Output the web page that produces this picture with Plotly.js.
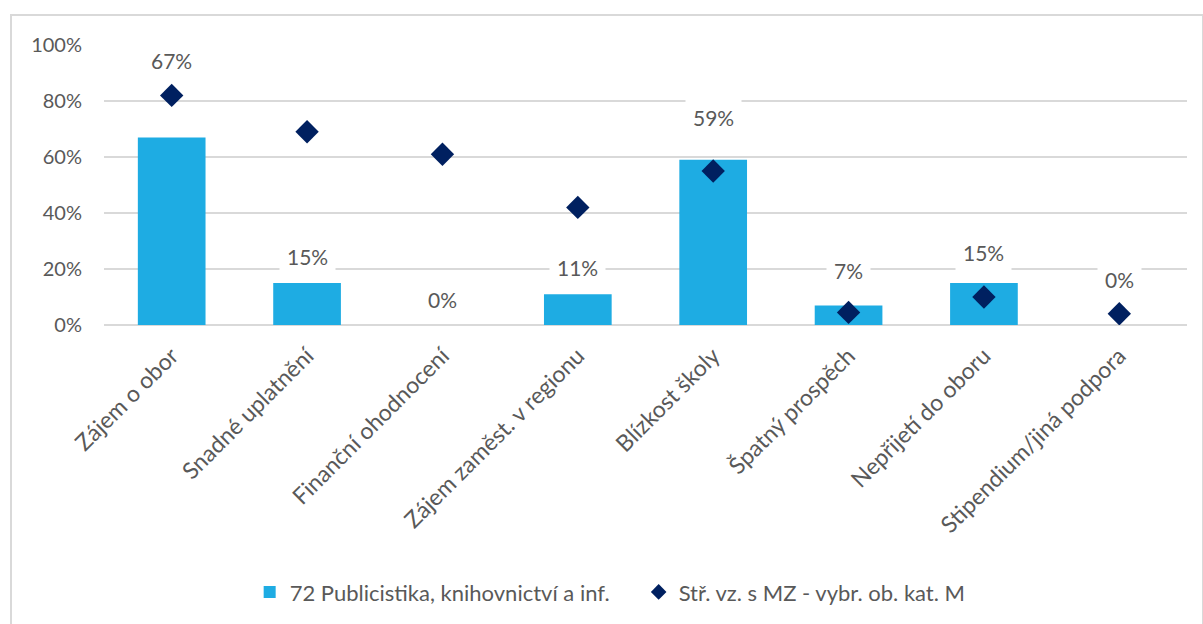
<!DOCTYPE html>
<html>
<head>
<meta charset="utf-8">
<script src="https://cdn.plot.ly/plotly-3.0.1.min.js"></script>
<style>
html,body{margin:0;padding:0;background:#fff;}
#wrap{position:relative;width:1203px;height:624px;overflow:hidden;}
#frame{position:absolute;left:10px;top:14px;width:1190px;height:640px;border:2px solid #d9d9d9;}
#chart{position:absolute;left:0;top:0;width:1203px;height:624px;}
</style>
</head>
<body>
<div id="wrap"><div id="frame"></div><div id="chart"></div></div>
<script>
const categories = ["Zájem o obor", "Snadné uplatnění", "Finanční ohodnocení", "Zájem zaměst. v regionu", "Blízkost školy", "Špatný prospěch", "Nepřijetí do oboru", "Stipendium/jiná podpora"];
const seriesBarName = "72 Publicistika, knihovnictví a inf.";
const seriesBar = [0.67, 0.15, 0.00, 0.11, 0.59, 0.07, 0.15, 0.00];
const seriesDiamondName = "Stř. vz. s MZ - vybr. ob. kat. M";
const seriesDiamond = [0.82, 0.69, 0.61, 0.42, 0.55, 0.045, 0.10, 0.04];
const yTickVals = [0, 0.2, 0.4, 0.6, 0.8, 1.0];
const yTickText = ["0%", "20%", "40%", "60%", "80%", "100%"];
// label offsets above bar top (pixels) - styling
const labelShift = [77, 27, 26, 27, 42, 35, 31, 46];

const FONT = "Lato, 'Open Sans', sans-serif";
const TXT = "#595959";

const traces = [
  {
    type: "bar", name: seriesBarName, x: categories, y: seriesBar,
    marker: {color: "#1eace3"}, width: 0.5, hoverinfo: "x+y"
  },
  {
    type: "scatter", mode: "markers", name: seriesDiamondName, x: categories, y: seriesDiamond,
    marker: {symbol: "diamond", size: 18, color: "#002060"}
  }
];

const annotations = categories.map((c, i) => ({
  x: c, y: seriesBar[i], xref: "x", yref: "y",
  text: Math.round(seriesBar[i] * 100) + "%",
  showarrow: false, yanchor: "middle", yshift: labelShift[i],
  bgcolor: "#ffffff", borderpad: 7,
  font: {family: FONT, size: 21, color: TXT}
}));

const layout = {
  width: 1203, height: 624,
  margin: {l: 104, r: 16, t: 45, b: 298},
  paper_bgcolor: "rgba(0,0,0,0)", plot_bgcolor: "rgba(0,0,0,0)",
  font: {family: FONT, size: 20, color: TXT},
  bargap: 0.5,
  xaxis: {
    type: "category", tickangle: -45, showgrid: false, zeroline: false,
    showline: false, ticks: "", ticklabelstandoff: 12,
    tickfont: {family: FONT, size: 23, color: TXT}
  },
  yaxis: {
    range: [0, 1], tickvals: yTickVals, ticktext: yTickText,
    showgrid: true, gridcolor: "#d9d9d9", gridwidth: 1.5,
    zeroline: true, zerolinecolor: "#d9d9d9", zerolinewidth: 1.5,
    showline: false, ticks: "", ticklabelstandoff: 21,
    tickfont: {family: FONT, size: 20, color: TXT}
  },
  showlegend: true,
  legend: {
    orientation: "h", x: 0.1345, xanchor: "left", y: -0.947, yanchor: "middle",
    font: {family: FONT, size: 22, color: TXT}, itemwidth: 30, itemsizing: "constant",
    entrywidth: 344, entrywidthmode: "pixels", tracegroupgap: 0
  },
  annotations: annotations
};

Plotly.newPlot("chart", traces, layout, {displayModeBar: false, staticPlot: true});
</script>
</body>
</html>
